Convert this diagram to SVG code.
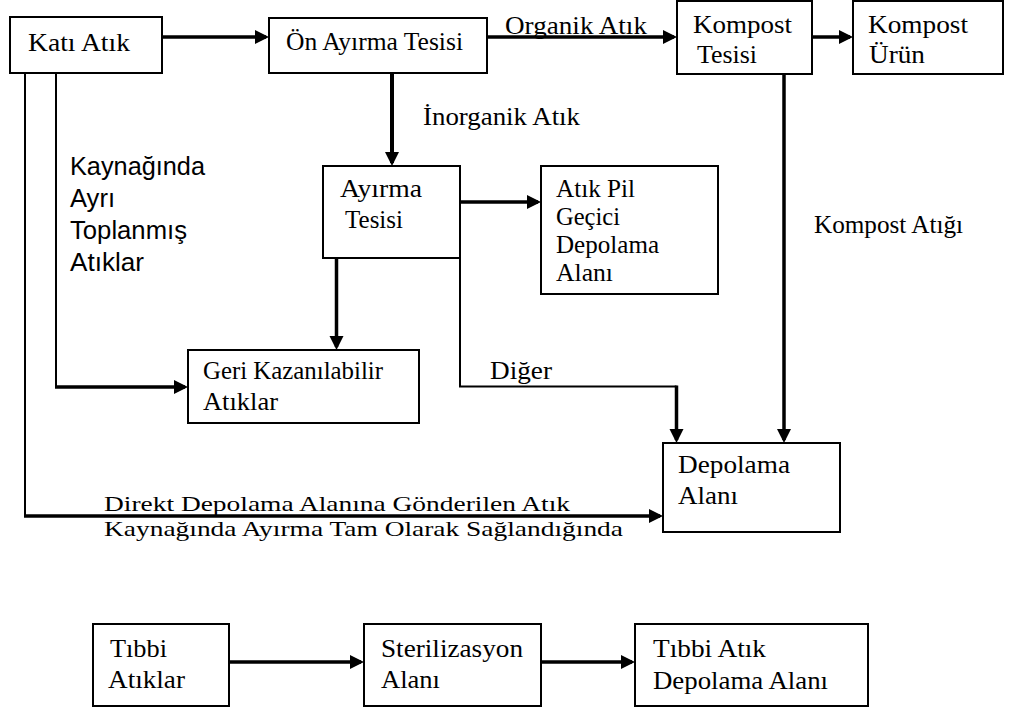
<svg xmlns="http://www.w3.org/2000/svg" width="1009" height="722" viewBox="0 0 1009 722">
<defs>
<style>
.box{fill:#fff;stroke:#000;stroke-width:2}
.t{font-family:"Liberation Serif","Times New Roman",serif;font-size:26px;fill:#000}
.tl{font-family:"Liberation Serif","Times New Roman",serif;font-size:22px;fill:#000}
.s{font-family:"Liberation Sans",Arial,sans-serif;font-size:25px;fill:#000}
.thick{fill:none;stroke:#000;stroke-width:3.5}
.thin{fill:none;stroke:#000;stroke-width:2}
.arr{marker-end:url(#ah)}
</style>
<marker id="ah" markerUnits="userSpaceOnUse" markerWidth="15" markerHeight="15" refX="11" refY="7" orient="auto">
<path d="M0,0 L14,7 L0,14 z" fill="#000"/>
</marker>
</defs>
<rect width="1009" height="722" fill="#fff"/>

<g id="kati-atik">
<rect class="box" x="10" y="17" width="152" height="56"/>
<text class="t" x="28" y="51" textLength="102" lengthAdjust="spacingAndGlyphs">Katı Atık</text>
</g>
<g id="on-ayirma">
<rect class="box" x="269" y="18" width="218" height="55"/>
<text class="t" x="286" y="50" textLength="177" lengthAdjust="spacingAndGlyphs">Ön Ayırma Tesisi</text>
</g>
<g id="kompost-tesisi">
<rect class="box" x="677" y="1" width="135" height="73"/>
<text class="t" x="693" y="33" textLength="99" lengthAdjust="spacingAndGlyphs">Kompost</text>
<text class="t" x="697" y="63" textLength="60" lengthAdjust="spacingAndGlyphs">Tesisi</text>
</g>
<g id="kompost-urun">
<rect class="box" x="853" y="1" width="150" height="73"/>
<text class="t" x="868" y="33" textLength="100" lengthAdjust="spacingAndGlyphs">Kompost</text>
<text class="t" x="869" y="63" textLength="56" lengthAdjust="spacingAndGlyphs">Ürün</text>
</g>
<g id="ayirma-tesisi">
<rect class="box" x="323" y="166" width="137" height="92"/>
<text class="t" x="340" y="197" textLength="82" lengthAdjust="spacingAndGlyphs">Ayırma</text>
<text class="t" x="345" y="228" textLength="58" lengthAdjust="spacingAndGlyphs">Tesisi</text>
</g>
<g id="atik-pil">
<rect class="box" x="541" y="166" width="177" height="128"/>
<text class="t" x="556" y="197" textLength="79" lengthAdjust="spacingAndGlyphs">Atık Pil</text>
<text class="t" x="556" y="225" textLength="64" lengthAdjust="spacingAndGlyphs">Geçici</text>
<text class="t" x="556" y="253" textLength="103" lengthAdjust="spacingAndGlyphs">Depolama</text>
<text class="t" x="556" y="281" textLength="57" lengthAdjust="spacingAndGlyphs">Alanı</text>
</g>
<g id="geri-kazanilabilir">
<rect class="box" x="188" y="350" width="231" height="73"/>
<text class="t" x="203" y="379" textLength="180" lengthAdjust="spacingAndGlyphs">Geri Kazanılabilir</text>
<text class="t" x="203" y="410" textLength="75" lengthAdjust="spacingAndGlyphs">Atıklar</text>
</g>
<g id="depolama-alani">
<rect class="box" x="663" y="443" width="177" height="89"/>
<text class="t" x="678" y="473" textLength="112" lengthAdjust="spacingAndGlyphs">Depolama</text>
<text class="t" x="678" y="504" textLength="60" lengthAdjust="spacingAndGlyphs">Alanı</text>
</g>
<g id="tibbi-atiklar">
<rect class="box" x="93" y="624" width="136" height="82"/>
<text class="t" x="110" y="657" textLength="57" lengthAdjust="spacingAndGlyphs">Tıbbi</text>
<text class="t" x="108" y="688" textLength="77" lengthAdjust="spacingAndGlyphs">Atıklar</text>
</g>
<g id="sterilizasyon">
<rect class="box" x="364" y="624" width="177" height="82"/>
<text class="t" x="381" y="657" textLength="142" lengthAdjust="spacingAndGlyphs">Sterilizasyon</text>
<text class="t" x="381" y="688" textLength="59" lengthAdjust="spacingAndGlyphs">Alanı</text>
</g>
<g id="tibbi-atik-depolama">
<rect class="box" x="635" y="624" width="233" height="82"/>
<text class="t" x="653" y="657" textLength="113" lengthAdjust="spacingAndGlyphs">Tıbbi Atık</text>
<text class="t" x="653" y="689" textLength="175" lengthAdjust="spacingAndGlyphs">Depolama Alanı</text>
</g>

<g id="connectors">
<path class="thick arr" d="M162,37 H266"/>
<path class="thick arr" d="M487,37 H674"/>
<path class="thick arr" d="M812,37 H850"/>
<path class="thick arr" d="M392,73 V163" style="stroke-width:4"/>
<path class="thick arr" d="M460,202 H538"/>
<path class="thick arr" d="M336.5,258 V347"/>
<path class="thin" d="M56,73 V387"/>
<path class="thick arr" d="M55,387 H185"/>
<path class="thin" d="M25,73 V516"/>
<path class="thick arr" d="M24,516 H660"/>
<path class="thin" d="M460,258 V386.5 H676.5"/>
<path class="thick arr" d="M676.5,385.5 V440"/>
<path class="thick arr" d="M784,74 V440"/>
<path class="thick arr" d="M229,662 H361"/>
<path class="thick arr" d="M541,662 H632"/>
</g>

<g id="labels">
<text class="t" x="505" y="34" textLength="142" lengthAdjust="spacingAndGlyphs">Organik Atık</text>
<text class="t" x="423" y="125" textLength="157" lengthAdjust="spacingAndGlyphs">İnorganik Atık</text>
<text class="t" x="814" y="233" textLength="149" lengthAdjust="spacingAndGlyphs">Kompost Atığı</text>
<text class="t" x="490" y="379" textLength="62" lengthAdjust="spacingAndGlyphs">Diğer</text>
<text class="tl" x="104" y="511" textLength="466" lengthAdjust="spacingAndGlyphs">Direkt Depolama Alanına Gönderilen Atık</text>
<text class="tl" x="104" y="536" textLength="519" lengthAdjust="spacingAndGlyphs">Kaynağında Ayırma Tam Olarak Sağlandığında</text>
<text class="s" x="70" y="175" textLength="135" lengthAdjust="spacingAndGlyphs">Kaynağında</text>
<text class="s" x="70" y="207" textLength="45" lengthAdjust="spacingAndGlyphs">Ayrı</text>
<text class="s" x="70" y="239" textLength="117" lengthAdjust="spacingAndGlyphs">Toplanmış</text>
<text class="s" x="70" y="271" textLength="74" lengthAdjust="spacingAndGlyphs">Atıklar</text>
</g>
</svg>
